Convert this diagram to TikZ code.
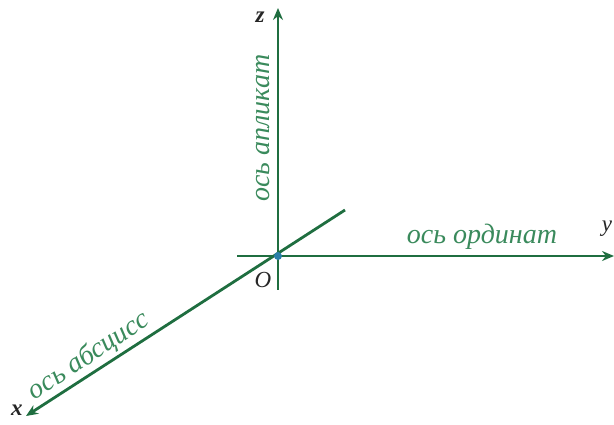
\documentclass[tikz,border=0pt]{standalone}
\usepackage{fontspec}
\setmainfont{Liberation Serif}
\usetikzlibrary{arrows.meta}
\definecolor{axisgreen}{HTML}{1F6E40}
\definecolor{textgreen}{HTML}{3A8A5C}
\definecolor{dotblue}{HTML}{2A7FA8}
\tikzset{
  axis/.style={draw=axisgreen, line width=2.8pt, -{Stealth[length=12pt,width=10pt]}},
  axlabel/.style={text=textgreen, font=\fontsize{28}{30}\selectfont\itshape, inner sep=0pt},
  letter/.style={text=black!85, font=\fontsize{23}{25}\selectfont\itshape, inner sep=0pt}
}
\begin{document}
\begin{tikzpicture}[x=1pt,y=-1pt]
\useasboundingbox (0,0) rectangle (614,425);
\coordinate (O) at (278,256);
\coordinate (zb) at (278,290);
\coordinate (zt) at (278,8);
\coordinate (yl) at (237,256);
\coordinate (yr) at (614,256);
\coordinate (xb) at (345,210);
\coordinate (xt) at (26,416);
\draw[axis] (zb) -- (zt);
\draw[axis] (yl) -- (yr);
\draw[axis] (xb) -- (xt);
\fill[dotblue] (O) circle (4pt);
\node[letter, font=\fontsize{23}{25}\selectfont\bfseries\itshape] (zl) at (260,17) {z};
\node[letter] (ylab) at (607,229) {y};
\node[letter, font=\fontsize{23}{25}\selectfont\bfseries\itshape] (xlab) at (17,410) {x};
\node[letter] (olab) at (263,280) {O};
\node[axlabel, rotate=90] (zt1) at (263,128) {ось апликат};
\node[axlabel] (yt1) at (482,237) {ось ординат};
\node[axlabel, rotate=33.5] (xt1) at (89,356) {ось абсцисс};
\end{tikzpicture}
\end{document}
